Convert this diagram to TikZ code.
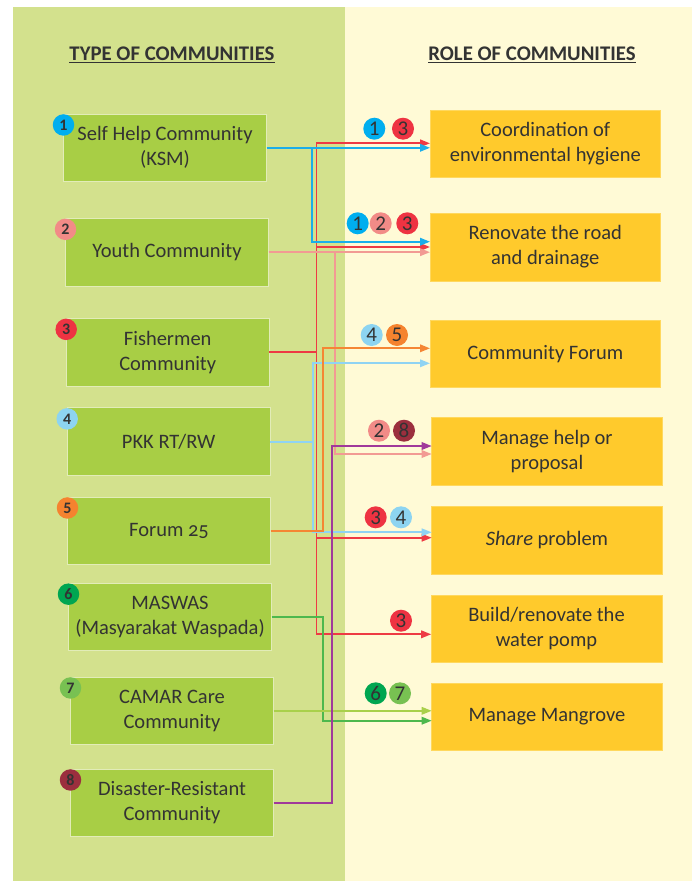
\documentclass[tikz,border=0pt]{standalone}
\usepackage{fontspec}
\setmainfont{Carlito}
\usetikzlibrary{arrows.meta,calc}
\definecolor{leftbg}{HTML}{D3E18D}
\definecolor{rightbg}{HTML}{FFFAD6}
\definecolor{greenbox}{HTML}{A8CE45}
\definecolor{greenedge}{HTML}{E2ECB8}
\definecolor{yellowbox}{HTML}{FFCA2C}
\definecolor{yellowedge}{HTML}{FFD85E}
\definecolor{txt}{HTML}{333333}
\definecolor{cone}{HTML}{00AEEF}
\definecolor{ctwo}{HTML}{F28B87}
\definecolor{cthree}{HTML}{EE3342}
\definecolor{cfour}{HTML}{8DD4F1}
\definecolor{cfive}{HTML}{F5832F}
\definecolor{csix}{HTML}{00A651}
\definecolor{cseven}{HTML}{78C152}
\definecolor{ceight}{HTML}{9B2F3E}
\definecolor{lone}{HTML}{1AAEEA}
\definecolor{ltwo}{HTML}{F29A93}
\definecolor{lthree}{HTML}{EE3A43}
\definecolor{lfour}{HTML}{8FD3F3}
\definecolor{lfive}{HTML}{F58634}
\definecolor{lsix}{HTML}{4DB84D}
\definecolor{lseven}{HTML}{A9D04B}
\definecolor{leight}{HTML}{A0399A}
\tikzset{
  typebox/.style={draw=greenedge, line width=0.8pt, fill=greenbox, minimum width=203pt, minimum height=67.7pt, inner sep=0pt, outer sep=0pt, align=center, text=txt, font=\fontsize{20.5}{25}\selectfont},
  rolebox/.style={draw=yellowedge, line width=0.5pt, fill=yellowbox, minimum width=230.6pt, minimum height=67.5pt, inner sep=0pt, outer sep=0pt, align=center, text=txt, font=\fontsize{20.5}{25}\selectfont},
  lbadge/.style={circle, fill=#1, minimum size=21.5pt, inner sep=0pt, text=txt, font=\bfseries\fontsize{16}{16}\selectfont},
  rbadge/.style={circle, fill=#1, minimum size=22pt, inner sep=0pt, text=txt, font=\fontsize{21}{21}\selectfont},
  conn/.style={draw=#1, line width=1.8pt, -{Triangle[length=10pt,width=7.5pt]}},
  wire/.style={draw=#1, line width=1.8pt},
  titletext/.style={text=txt, font=\bfseries\fontsize{20.8}{24}\selectfont}
}
\begin{document}
\begin{tikzpicture}[x=1pt,y=-1pt]
\useasboundingbox (0,0) rectangle (692,881);
\fill[white] (0,0) rectangle (692,881);
\fill[leftbg] (13.2,7.3) rectangle (345,881);
\fill[rightbg] (345,7.3) rectangle (692,881);

\node[titletext] (tl) at (172,55) {\underline{TYPE OF COMMUNITIES}};
\node[titletext] (tr) at (532,55) {\underline{ROLE OF COMMUNITIES}};

% type boxes
\node[typebox] (ksm) at (165,147.8) {Self Help Community\\(KSM)};
\node[typebox] (youth) at (167,252.2) {Youth Community};
\node[typebox] (fish) at (167.7,352.2) {Fishermen\\Community};
\node[typebox] (pkk) at (168.7,441.7) {PKK RT/RW};
\node[typebox] (forum) at (169,530.8) {Forum {\addfontfeatures{Numbers=OldStyle}25}};
\node[typebox] (maswas) at (170,617) {MASWAS\\(Masyarakat Waspada)};
\node[typebox] (camar) at (172,710.8) {CAMAR Care\\Community};
\node[typebox] (disaster) at (172,802.8) {Disaster-Resistant\\Community};

% role boxes
\node[rolebox] (coord) at (545.3,143.8) {Coordination of\\environmental hygiene};
\node[rolebox] (renov) at (545.3,247) {Renovate the road\\and drainage};
\node[rolebox] (cforum) at (545.3,353.8) {Community Forum};
\node[rolebox] (mhelp) at (547,451.2) {Manage help or\\proposal};
\node[rolebox] (share) at (547,540.3) {\textit{Share} problem};
\node[rolebox] (build) at (546.5,628.8) {Build/renovate the\\water pomp};
\node[rolebox] (mangrove) at (547,716.7) {Manage Mangrove};

% left badges
\node[lbadge=cone] (lb1) at ([yshift=-11pt]ksm.north west) {1};
\node[lbadge=ctwo] (lb2) at ([yshift=-11pt]youth.north west) {2};
\node[lbadge=cthree] (lb3) at ([yshift=-11pt]fish.north west) {3};
\node[lbadge=cfour] (lb4) at ([yshift=-11pt]pkk.north west) {4};
\node[lbadge=cfive] (lb5) at ([yshift=-11pt]forum.north west) {5};
\node[lbadge=csix] (lb6) at ([yshift=-11pt]maswas.north west) {6};
\node[lbadge=cseven] (lb7) at ([yshift=-11pt]camar.north west) {7};
\node[lbadge=ceight] (lb8) at ([yshift=-11pt]disaster.north west) {8};

% bus coordinates
\coordinate (bxone) at (311.7,0);
\coordinate (bxfour) at (312.7,0);
\coordinate (bxthree) at (316.5,0);
\coordinate (bxfive) at (323.3,0);
\coordinate (bxsix) at (323.3,0);
\coordinate (bxeight) at (331.8,0);
\coordinate (bxtwo) at (335.3,0);

% red (3)
\draw[wire=lthree] (fish.east) -- (fish.east -| bxthree);
\draw[conn=lthree] (fish.east -| bxthree) |- ([yshift=0.5pt]coord.west);
\draw[conn=lthree] (fish.east -| bxthree) |- (renov.west);
\draw[conn=lthree] (fish.east -| bxthree) |- ([yshift=2.6pt]share.west);
\draw[conn=lthree] (fish.east -| bxthree) |- ([yshift=-5.5pt]build.west);

% pink (2)
\draw[conn=ltwo] (youth.east) -- (youth.east -| renov.west);
\draw[conn=ltwo] (youth.east -| bxtwo) |- ([yshift=-2.8pt]mhelp.west);

% blue (1)
\draw[conn=lone] (ksm.east) -- (ksm.east -| coord.west);
\draw[conn=lone] (ksm.east -| bxone) |- ([yshift=5.3pt]renov.west);

% light blue (4)
\draw[wire=lfour] (pkk.east) -- (pkk.east -| bxfour);
\draw[conn=lfour] (pkk.east -| bxfour) |- ([yshift=-9.5pt]cforum.west);
\draw[conn=lfour] (pkk.east -| bxfour) |- ([yshift=8pt]share.west);

% orange (5)
\draw[conn=lfive] (forum.east) -- (forum.east -| bxfive) |- ([yshift=5.5pt]cforum.west);

% green (6)
\draw[conn=lsix] (maswas.east) -- (maswas.east -| bxsix) |- ([yshift=-4pt]mangrove.west);

% light green (7)
\draw[conn=lseven] (camar.east) -- (camar.east -| mangrove.west);

% purple (8)
\draw[conn=leight] (disaster.east) -- (disaster.east -| bxeight) |- ([yshift=5.2pt]mhelp.west);

% right badges
\node[rbadge=cone] (ra1) at (374.3,128.7) {1};
\node[rbadge=cthree] (ra3) at (403,128.7) {3};
\node[rbadge=cone] (rb1) at (357.7,223.3) {1};
\node[rbadge=ctwo] (rb2) at (380.7,223.3) {2};
\node[rbadge=cthree] (rb3) at (407.3,223.3) {3};
\node[rbadge=cfour] (rc4) at (371.7,335) {4};
\node[rbadge=cfive] (rc5) at (397,335) {5};
\node[rbadge=ctwo] (rd2) at (379,430.7) {2};
\node[rbadge=ceight] (rd8) at (404,430.7) {8};
\node[rbadge=cthree] (re3) at (375.7,517.3) {3};
\node[rbadge=cfour] (re4) at (401,517.3) {4};
\node[rbadge=cthree] (rf3) at (401,620.7) {3};
\node[rbadge=csix] (rg6) at (375.7,693.3) {6};
\node[rbadge=cseven] (rg7) at (400,693.3) {7};
\end{tikzpicture}
\end{document}
